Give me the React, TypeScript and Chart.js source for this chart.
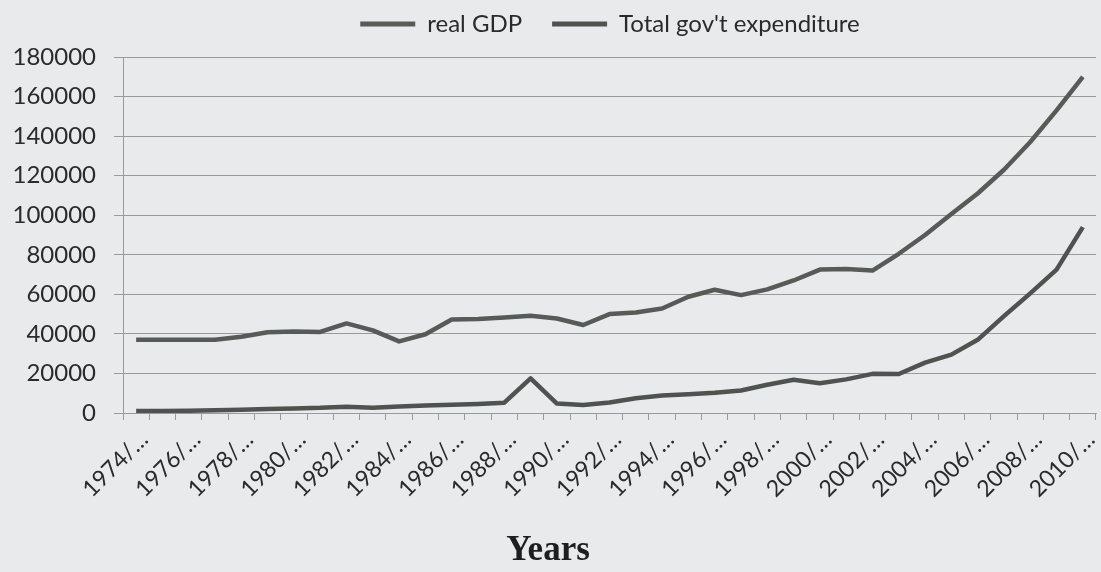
import React, { useEffect, useRef } from "react";
import { Chart, registerables } from "chart.js";

Chart.register(...registerables);

const categories = [
  "1974/75", "1975/76", "1976/77", "1977/78", "1978/79", "1979/80", "1980/81", "1981/82",
  "1982/83", "1983/84", "1984/85", "1985/86", "1986/87", "1987/88", "1988/89", "1989/90",
  "1990/91", "1991/92", "1992/93", "1993/94", "1994/95", "1995/96", "1996/97", "1997/98",
  "1998/99", "1999/00", "2000/01", "2001/02", "2002/03", "2003/04", "2004/05", "2005/06",
  "2006/07", "2007/08", "2008/09", "2009/10", "2010/11",
];

const realGDP = [
  37000, 37000, 37000, 37000, 38600, 40800, 41200, 41000, 45300, 41800, 36200, 39800,
  47300, 47500, 48300, 49200, 47800, 44500, 50000, 50800, 52800, 58800, 62300, 59600,
  62500, 67000, 72500, 72800, 72000, 80500, 90000, 100600, 111000, 123000, 137000, 153000,
  170000,
];

const govExpenditure = [
  1000, 1000, 1200, 1400, 1700, 2000, 2300, 2600, 3200, 2700, 3300, 3800, 4200, 4600,
  5200, 17500, 4800, 4000, 5300, 7500, 8800, 9500, 10200, 11400, 14300, 16800, 15000,
  17000, 19800, 19700, 25500, 29500, 37000, 49000, 60500, 72500, 94000,
];

const yMin = 0;
const yMax = 180000;
const yStep = 20000;

const seriesNames = ["real GDP", "Total gov't expenditure"];
const axisTitle = "Years";

const BG = "#e9eaec";
const LINE1 = "#565b58";
const LINE2 = "#4e5350";
const GRID = "#9a9a9a";
const TEXT = "#2a2a2a";

export default function App() {
  const ref = useRef<HTMLCanvasElement>(null);

  useEffect(() => {
    const canvas = ref.current;
    if (!canvas) return;

    const legendTweak = {
      id: "legendTweak",
      beforeLayout(chart: any) {
        const l = chart.legend;
        if (l && !l.__wrapped) {
          const f = l.fit.bind(l);
          l.fit = function () {
            f();
            this.height += 11;
          };
          l.__wrapped = true;
        }
      },
      afterLayout(chart: any) {
        const l = chart.legend;
        if (l) {
          l.left += 62;
          l.right += 62;
        }
      },
    };

    const chart = new Chart(canvas, {
      type: "line",
      data: {
        labels: categories,
        datasets: [
          {
            label: seriesNames[0],
            data: realGDP,
            borderColor: LINE1,
            backgroundColor: LINE1,
            borderWidth: 4.5,
            pointRadius: 0,
            tension: 0,
            borderJoinStyle: "round",
          },
          {
            label: seriesNames[1],
            data: govExpenditure,
            borderColor: LINE2,
            backgroundColor: LINE2,
            borderWidth: 4.5,
            pointRadius: 0,
            tension: 0,
            borderJoinStyle: "round",
          },
        ],
      },
      options: {
        responsive: false,
        animation: false,
        layout: { padding: { top: -18, right: 5, bottom: 0, left: 0 } },
        plugins: {
          tooltip: { enabled: false },
          legend: {
            position: "top",
            labels: {
              boxWidth: 55,
              boxHeight: 5,
              padding: 30,
              color: TEXT,
              font: { family: "Lato", size: 24 },
              generateLabels: (c: any) =>
                Chart.defaults.plugins.legend.labels
                  .generateLabels(c)
                  .map((it: any) => ({ ...it, lineWidth: 0 })),
            },
          },
          title: {
            display: true,
            position: "bottom",
            text: axisTitle,
            color: "#1e1e1e",
            font: { family: "Liberation Serif", size: 35, weight: "bold" },
            padding: { top: 0, bottom: 0 },
          },
        },
        scales: {
          x: {
            offset: true,
            grid: {
              offset: true,
              drawOnChartArea: false,
              drawTicks: true,
              tickLength: 7,
              color: GRID,
            },
            border: { color: GRID },
            ticks: {
              autoSkip: false,
              minRotation: 45,
              maxRotation: 45,
              labelOffset: 8,
              padding: 6,
              color: TEXT,
              font: { family: "Lato", size: 23 },
              callback: (_v: any, i: number) =>
                i % 2 === 0 ? categories[i].slice(0, 5) + "\u2026" : "",
            },
            afterFit: (s: any) => {
              s.height = 572 - 413 - 35 * 1.2;
              s.paddingRight = 0;
              s.paddingLeft = 0;
            },
          },
          y: {
            min: yMin,
            max: yMax,
            ticks: {
              stepSize: yStep,
              color: TEXT,
              font: { family: "Lato", size: 24 },
              padding: 18,
              callback: (v: any) => String(v),
            },
            grid: { color: GRID, tickLength: 9 },
            border: { color: GRID },
            afterFit: (s: any) => {
              s.width = 123;
            },
          },
        },
      },
      plugins: [legendTweak],
    } as any);

    return () => chart.destroy();
  }, []);

  return (
    <div
      style={{
        position: "fixed",
        left: 0,
        top: 0,
        width: 1101,
        height: 572,
        background: BG,
      }}
    >
      <canvas ref={ref} width={1101} height={572} style={{ display: "block" }} />
    </div>
  );
}
